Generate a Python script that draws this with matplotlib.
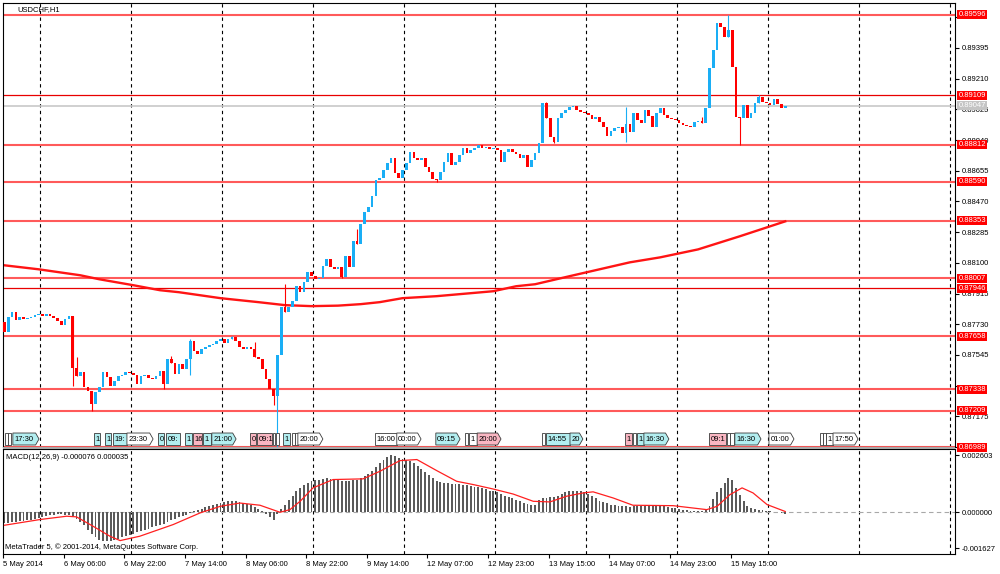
# USDCHF H1 chart with MACD sub-window, drawn in MetaTrader 5 style

import matplotlib
matplotlib.use("Agg")
import matplotlib.pyplot as plt
import numpy as np
from matplotlib.patches import Polygon, Rectangle
from matplotlib.transforms import blended_transform_factory

plt.rcParams["font.family"] = ["Liberation Sans", "DejaVu Sans"]
plt.rcParams["font.size"] = 5.5

# ---------------- price data ----------------
symbol = "USDCHF,H1"
first_open = 0.87743
closes = [
    0.87683, 0.87773, 0.87803, 0.87755, 0.87773, 0.87761, 0.87767, 0.87773, 0.87785, 0.87791,
    0.87779, 0.87791, 0.87779, 0.87767, 0.87749, 0.87725, 0.87761, 0.87779,
    0.87466, 0.87418, 0.87442, 0.87352, 0.87328, 0.87250, 0.87322, 0.87352, 0.87442, 0.87412,
    0.87358, 0.87388, 0.87418, 0.87424, 0.87442, 0.87436,
    0.87424, 0.87370, 0.87418, 0.87424, 0.87406, 0.87400, 0.87418, 0.87448, 0.87370, 0.87520,
    0.87496, 0.87430, 0.87490, 0.87460, 0.87520, 0.87629,
    0.87568, 0.87550, 0.87580, 0.87593, 0.87605, 0.87611, 0.87629, 0.87641, 0.87617, 0.87641,
    0.87653, 0.87629, 0.87593, 0.87580, 0.87593, 0.87580,
    0.87532, 0.87520, 0.87460, 0.87400, 0.87340, 0.87298, 0.87544, 0.87833,
    0.87803, 0.87833, 0.87869, 0.87959, 0.87923, 0.87983, 0.88043, 0.88019, 0.88001, 0.88007,
    0.88079, 0.88121, 0.88073, 0.88061, 0.88073, 0.88013,
    0.88139, 0.88073, 0.88230, 0.88212, 0.88332, 0.88404, 0.88434, 0.88500, 0.88602, 0.88614,
    0.88662, 0.88704, 0.88734, 0.88644, 0.88614, 0.88662,
    0.88704, 0.88770, 0.88734, 0.88722, 0.88734, 0.88680, 0.88650, 0.88608, 0.88602, 0.88650,
    0.88710, 0.88764, 0.88692, 0.88710, 0.88752, 0.88795,
    0.88764, 0.88782, 0.88795, 0.88813, 0.88795, 0.88801, 0.88789, 0.88795, 0.88782, 0.88710,
    0.88770, 0.88789, 0.88770, 0.88758, 0.88734, 0.88752,
    0.88680, 0.88722, 0.88764, 0.88825, 0.89065, 0.88975, 0.88861, 0.88831, 0.88975, 0.89005,
    0.89023, 0.89041, 0.89047, 0.89023, 0.89011, 0.89005,
    0.88993, 0.88969, 0.88981, 0.88951, 0.88921, 0.88867, 0.88897, 0.88915, 0.88921, 0.88885,
    0.88939, 0.88891, 0.89005, 0.88963, 0.88945, 0.89023,
    0.88987, 0.88921, 0.89005, 0.89035, 0.88993, 0.88975, 0.88969, 0.88963, 0.88945, 0.88933,
    0.88927, 0.88921, 0.88951, 0.88957, 0.88945, 0.89035,
    0.89275, 0.89384, 0.89546, 0.89522, 0.89462, 0.89504, 0.89281, 0.88981, 0.88975, 0.89053,
    0.88975, 0.89005, 0.89065, 0.89101, 0.89071, 0.89065,
    0.89053, 0.89089, 0.89059, 0.89035, 0.89047,
]
# only the candles with a visible shadow are listed here
wick_high = {19: 0.87532, 44: 0.87538, 49: 0.87641, 60: 0.87658, 66: 0.87623, 74: 0.87971,
             93: 0.88302, 143: 0.89071, 164: 0.89041, 184: 0.88981, 191: 0.89596, 199: 0.89109}
wick_low = {18: 0.87358, 23: 0.87209, 42: 0.87338, 49: 0.87424, 71: 0.87244, 72: 0.86989,
            89: 0.88007, 114: 0.88590, 145: 0.88825, 164: 0.88831, 194: 0.88812}

# moving average
ma_bars = [0, 9, 20, 25, 34, 41, 46, 57, 67, 74, 81, 88, 94, 99, 105, 114, 123, 129, 135, 140,
           149, 157, 165, 173, 183, 194, 206]
ma_values = [0.88085, 0.88061, 0.88025, 0.88001, 0.87965, 0.87935, 0.87923, 0.87887, 0.87863,
             0.87845, 0.87839, 0.87842, 0.87851, 0.87863, 0.87887, 0.87899, 0.87917, 0.87929,
             0.87959, 0.87971, 0.88019, 0.88061, 0.88103, 0.88133, 0.88181, 0.88260, 0.88350]

levels = [0.89596, 0.89109, 0.88812, 0.88590, 0.88353, 0.88007, 0.87946, 0.87658, 0.87338,
          0.87209, 0.86989]
thin_levels = [0.89109, 0.87946]
last_price = 0.89047
price_ticks = [0.86990, 0.87175, 0.87360, 0.87545, 0.87730, 0.87915, 0.88100, 0.88285,
               0.88470, 0.88655, 0.88840, 0.89025, 0.89210, 0.89395, 0.89580]
# these scale values sit fully under a level label in the terminal
hidden_ticks = [0.86990, 0.87360, 0.89580]

# ---------------- MACD(12,26,9) ----------------
macd_hist = [
    -0.00048, -0.00047, -0.00046, -0.00044, -0.00042, -0.00040, -0.00037, -0.00034, -0.00030, -0.00027,
    -0.00020, -0.00016, -0.00013, -0.00011, -0.00010, -0.00010, -0.00011, -0.00013, -0.00018, -0.00030,
    -0.00044, -0.00059, -0.00079, -0.00099, -0.00114, -0.00124, -0.00132, -0.00132, -0.00129, -0.00124,
    -0.00120, -0.00114, -0.00108, -0.00102, -0.00097, -0.00091, -0.00086, -0.00080, -0.00074, -0.00068,
    -0.00064, -0.00058, -0.00053, -0.00044, -0.00036, -0.00030, -0.00023, -0.00017, -0.00011, -0.00002,
    0.00006, 0.00012, 0.00017, 0.00023, 0.00029, 0.00035, 0.00039, 0.00044, 0.00047, 0.00050,
    0.00050, 0.00050, 0.00047, 0.00044, 0.00038, 0.00032, 0.00024, 0.00015, 0.00005, -0.00008,
    -0.00021, -0.00033, -0.00008, 0.00015, 0.00035, 0.00055, 0.00075, 0.00095, 0.00110, 0.00124,
    0.00135, 0.00142, 0.00146, 0.00149, 0.00152, 0.00154, 0.00153, 0.00150, 0.00147, 0.00143,
    0.00142, 0.00141, 0.00145, 0.00148, 0.00155, 0.00165, 0.00175, 0.00190, 0.00208, 0.00225,
    0.00240, 0.00252, 0.00260, 0.00255, 0.00248, 0.00243, 0.00238, 0.00232, 0.00222, 0.00210,
    0.00196, 0.00182, 0.00168, 0.00155, 0.00143, 0.00137, 0.00134, 0.00133, 0.00130, 0.00129,
    0.00127, 0.00125, 0.00122, 0.00120, 0.00117, 0.00114, 0.00111, 0.00105, 0.00099, 0.00095,
    0.00090, 0.00082, 0.00076, 0.00071, 0.00066, 0.00058, 0.00050, 0.00043, 0.00036, 0.00033,
    0.00031, 0.00055, 0.00065, 0.00066, 0.00068, 0.00070, 0.00076, 0.00085, 0.00092, 0.00097,
    0.00099, 0.00098, 0.00095, 0.00090, 0.00082, 0.00074, 0.00064, 0.00053, 0.00046, 0.00040,
    0.00035, 0.00031, 0.00029, 0.00027, 0.00027, 0.00026, 0.00027, 0.00028, 0.00028, 0.00029,
    0.00030, 0.00030, 0.00032, 0.00031, 0.00028, 0.00025, 0.00021, 0.00018, 0.00014, 0.00011,
    0.00009, 0.00008, 0.00007, 0.00007, 0.00008, 0.00012, 0.00030, 0.00060, 0.00090, 0.00110,
    0.00135, 0.00155, 0.00145, 0.00110, 0.00078, 0.00052, 0.00030, 0.00018, 0.00014, 0.00012,
    0.00011, 0.00008, 0.00005, 0.00003, 0.00002, -0.00002, -0.000076,
]
signal_bars = [0, 9.4, 16.4, 19, 23.4, 27.8, 30.5, 35.7, 44.5, 51.6, 56.9, 62.1, 67.4, 72.7,
               75.3, 78, 81.4, 86.7, 94.6, 99.1, 104.3, 108.8, 114, 119.3, 123.7, 128.9,
               134.2, 139.5, 143.9, 148.3, 152.7, 155.3, 160.6, 165.8, 176.4, 185.3, 188,
               191.4, 194.6, 197.5, 201.2, 206]
signal_values = [-0.00059, -0.00033, -0.00018, -0.00021, -0.00064, -0.00109, -0.00129,
                 -0.00109, -0.00056, -0.00003, 0.00027, 0.00042, 0.00032, 0.0, 0.00012,
                 0.00050, 0.00111, 0.00149, 0.00152, 0.00187, 0.00235, 0.00240, 0.00190,
                 0.00141, 0.00126, 0.00106, 0.00083, 0.00050, 0.00047, 0.00073, 0.00088,
                 0.00093, 0.00065, 0.00032, 0.00030, 0.00012, 0.00027, 0.00080, 0.00111,
                 0.00088, 0.00035, 0.000035]
macd_ticks = [-0.001627, 0.0, 0.002603]
macd_title = "MACD(12,26,9) -0.000076 0.000035"

date_labels = ["5 May 2014", "6 May 06:00", "6 May 22:00", "7 May 14:00", "8 May 06:00",
               "8 May 22:00", "9 May 14:00", "12 May 07:00", "12 May 23:00", "13 May 15:00",
               "14 May 07:00", "14 May 23:00", "15 May 15:00"]

# economic calendar events: start bar, end bar, visible text, colour, arrow tip
events = [
    (0.1, 0.9, "", "w", False), (0.9, 1.7, "", "w", False), (2.2, 9.1, "17:30", "c", True),
    (23.6, 25.2, "1", "c", False), (26.5, 28.1, "1", "c", False), (28.6, 32.3, "19:", "c", False),
    (32.3, 39.2, "23:30", "w", True), (40.5, 42.1, "0", "c", False), (42.6, 46.3, "09:", "c", False),
    (47.6, 49.5, "1", "c", False), (49.7, 52.1, "16", "p", False), (52.4, 54.5, "1", "c", False),
    (54.7, 61.1, "21:00", "c", True), (64.8, 66.4, "0", "p", False), (66.6, 70.6, "09:1", "p", False),
    (70.8, 71.4, "", "w", False), (71.6, 72.4, "", "w", False), (73.5, 75.3, "1", "c", False),
    (75.9, 76.7, "", "w", False), (76.7, 77.4, "", "w", False), (77.4, 84.0, "20:00", "w", True),
    (97.8, 103.5, "16:00", "w", False), (103.5, 109.9, "00:00", "w", True),
    (113.8, 120.2, "09:15", "c", True), (121.5, 122.3, "", "w", False), (122.6, 124.7, "1", "w", False),
    (124.7, 131.0, "20:00", "p", True), (141.8, 142.6, "", "w", False),
    (142.9, 149.2, "14:55", "c", False), (149.2, 152.6, "20", "c", True),
    (163.7, 165.6, "1", "p", False), (165.8, 166.6, "", "w", False), (166.9, 168.7, "1", "c", False),
    (168.7, 175.3, "16:30", "c", True), (185.9, 190.4, "09:1", "p", False),
    (190.6, 191.4, "", "w", False), (191.4, 192.5, "", "w", False), (192.7, 199.6, "16:30", "c", True),
    (201.7, 208.3, "01:00", "w", True), (215.2, 216.0, "", "w", False), (216.0, 216.8, "", "w", False),
    (216.8, 218.6, "1", "w", False), (218.6, 225.2, "17:50", "w", True),
]

UP = "#1aaef5"
DOWN = "#ff0000"
EVENT_FILL = {"w": "white", "c": "#b2eef0", "p": "#f9b6c2"}

# ---------------- figure layout ----------------
W, H = 1000, 574
fig = plt.figure(figsize=(W / 100, H / 100), dpi=100)
ax = fig.add_axes([3 / W, 1 - 447 / H, 952 / W, 444 / H])
ax2 = fig.add_axes([3 / W, 1 - 554 / H, 952 / W, 105 / H], sharex=ax)
fig.add_artist(Rectangle((3 / W, 1 - 449 / H), 952 / W, 2 / H, transform=fig.transFigure,
                         fc="#a8a8a8", ec="none"))

xmin = -0.4
xmax = xmin + 952 / 3.79
ax.set_xlim(xmin, xmax)
ax.set_ylim(0.86998, 0.89666)
ax2.set_ylim(-0.0019, 0.00288)

# daily grid (every 24 bars)
for g in np.arange(9.4, xmax, 24):
    for a in (ax, ax2):
        a.axvline(g, color="black", lw=0.8, ls=(0, (3, 3)), zorder=0.5)

# support / resistance lines
for lv in levels:
    if lv in thin_levels:
        ax.axhline(lv, color="#e80000", lw=0.9, zorder=1)
    else:
        ax.axhline(lv, color="#ff5a5a", lw=1.5, zorder=1)
ax.axhline(last_price, color="#c8c8c8", lw=1.2, zorder=1)

# moving average
ax.plot(ma_bars, ma_values, color="#ff1414", lw=1.7, zorder=2, solid_joinstyle="round")

# candles
n = len(closes)
opens = [first_open] + closes[:-1]
xs = np.arange(n)
body_lo, body_h, colours = [], [], []
for i in range(n):
    o, c = opens[i], closes[i]
    col = UP if c >= o else DOWN
    lo, hi = min(o, c), max(o, c)
    h = wick_high.get(i, hi)
    l = wick_low.get(i, lo)
    if h > hi or l < lo:
        ax.vlines(i, l, h, color=col, lw=0.8, zorder=3)
    body_lo.append(lo)
    body_h.append(max(hi - lo, 0.00005))
    colours.append(col)
ax.bar(xs, body_h, bottom=body_lo, width=0.7, color=colours, lw=0, zorder=4)

# event row at the bottom of the price window
trans = blended_transform_factory(ax.transData, ax.transAxes)
y0, y1 = 0.0045, 0.0315
for start, end, text, fill, arrow in events:
    tip = 0.9 if arrow else 0.0
    pts = [(start, y0), (end - tip, y0), (end, (y0 + y1) / 2), (end - tip, y1), (start, y1)]
    patch = Polygon(pts, closed=True, transform=trans, fc=EVENT_FILL[fill], ec="#3a3a3a",
                    lw=0.6, zorder=6)
    ax.add_patch(patch)
    if text:
        t = ax.text(start + 0.35, (y0 + y1) / 2, text, transform=trans, ha="left",
                    va="center", fontsize=5.5, zorder=7)
        t.set_clip_path(patch)

ax.text(14 / 952, (447 - 9.5) / 444, symbol, transform=ax.transAxes, ha="left",
        va="center", fontsize=5.5)

# right price scale
ax.yaxis.tick_right()
ax.set_yticks(price_ticks)
ax.set_yticklabels(["" if p in hidden_ticks else f"{p:.5f}" for p in price_ticks])
ax.tick_params(axis="y", length=3, width=0.8, pad=1.5, labelsize=5.5)
ax.tick_params(axis="x", bottom=False, labelbottom=False)
ltrans = blended_transform_factory(ax.transAxes, ax.transData)
for lv in levels:
    ax.text(1.0035, lv, f"{lv:.5f}", transform=ltrans, ha="left", va="center",
            fontsize=5.5, color="white", clip_on=False, zorder=10,
            bbox=dict(boxstyle="square,pad=0.14", fc="#ff0000", ec="none"))
ax.text(1.0035, last_price, f"{last_price:.5f}", transform=ltrans, ha="left", va="center",
        fontsize=5.5, color="white", clip_on=False, zorder=10,
        bbox=dict(boxstyle="square,pad=0.14", fc="#c4c4c4", ec="none"))

# MACD window
ax2.axhline(0, color="#a8a8a8", lw=0.8, ls=(0, (4, 3)), zorder=0.6)
ax2.bar(xs, macd_hist, width=0.5, color="#5a5a5a", lw=0, zorder=2)
ax2.plot(signal_bars, signal_values, color="#ff2020", lw=0.9, zorder=3, solid_joinstyle="round")
ax2.yaxis.tick_right()
ax2.set_yticks(macd_ticks)
ax2.set_yticklabels([f"{v:.6f}" for v in macd_ticks])
ax2.tick_params(axis="y", length=3, width=0.8, pad=1.5, labelsize=5.5)
ax2.set_xticks(np.arange(len(date_labels)) * 16 + xmin)
ax2.set_xticklabels(date_labels, ha="left")
ax2.tick_params(axis="x", length=3, width=0.8, pad=2, labelsize=5.5)
ax2.text(3 / 952, 0.919, macd_title, transform=ax2.transAxes, ha="left", va="center",
         fontsize=5.5)
ax2.text(2 / 952, 0.062, "MetaTrader 5, \u00a9 2001-2014, MetaQuotes Software Corp.",
         transform=ax2.transAxes, ha="left", va="center", fontsize=5.5)

for a in (ax, ax2):
    for s in a.spines.values():
        s.set_color("black")
        s.set_linewidth(0.8)

fig.savefig("out.png", dpi=100)
